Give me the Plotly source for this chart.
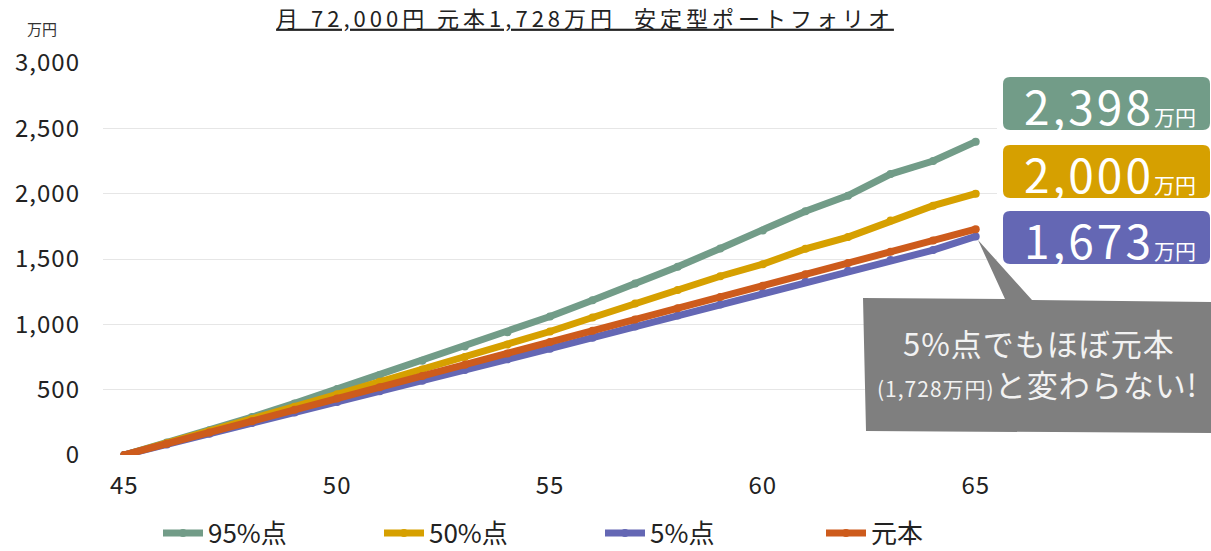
import plotly.graph_objects as go

# 年齢(歳)
ages = [45, 46, 47, 48, 49, 50, 51, 52, 53, 54, 55,
        56, 57, 58, 59, 60, 61, 62, 63, 64, 65]

# 資産額(万円)
p95 = [0, 95, 190, 290, 395, 505, 612, 722, 830, 940, 1060,
       1185, 1312, 1441, 1581, 1718, 1866, 1985, 2150, 2250, 2398]
p50 = [0, 90, 182, 276, 370, 465, 560, 655, 750, 845, 945,
       1052, 1160, 1262, 1368, 1460, 1578, 1668, 1795, 1908, 2000]
p05 = [0, 80, 162, 244, 325, 405, 487, 568, 650, 732, 814,
       898, 983, 1068, 1152, 1240, 1326, 1410, 1492, 1568, 1673]
principal = [0, 86.4, 172.8, 259.2, 345.6, 432, 518.4, 604.8, 691.2, 777.6, 864,
             950.4, 1036.8, 1123.2, 1209.6, 1296, 1382.4, 1468.8, 1555.2, 1641.6, 1728]

series_names = ["95%点", "50%点", "5%点", "元本"]
series_colors = ["#729c88", "#d6a000", "#6467b4", "#cd5b1c"]

y_ticks = [0, 500, 1000, 1500, 2000, 2500, 3000]
x_ticks = [45, 50, 55, 60, 65]

FONT = "Noto Sans CJK JP"

# plot area in pixels
W_FIG, H_FIG = 1211, 551
L, R, T, B = 103, 997, 63, 455


def paper(px, py):
    return (px - L) / (R - L), (B - py) / (B - T)


def spaced(text, px):
    return f"<span style='letter-spacing:{px}px'>{text}</span>"


def rounded_rect(x0, y0, x1, y1, r):
    # rounded rectangle path given in pixel corners, emitted in paper units
    ax0, top = paper(x0, y0)
    ax1, bot = paper(x1, y1)
    rx = r / (R - L)
    ry = r / (B - T)
    return (f"M{ax0 + rx},{top} L{ax1 - rx},{top} Q{ax1},{top} {ax1},{top - ry} "
            f"L{ax1},{bot + ry} Q{ax1},{bot} {ax1 - rx},{bot} "
            f"L{ax0 + rx},{bot} Q{ax0},{bot} {ax0},{bot + ry} "
            f"L{ax0},{top - ry} Q{ax0},{top} {ax0 + rx},{top} Z")


fig = go.Figure()
for name, vals, col in zip(series_names, [p95, p50, p05, principal], series_colors):
    fig.add_trace(go.Scatter(
        x=ages, y=vals, name=name, mode="lines+markers",
        line=dict(color=col, width=7),
        marker=dict(color=col, size=8),
    ))

shapes = []
annotations = []

# value badges at the right end
badge_rows = [(77, 130, p95[-1], series_colors[0]),
              (145, 198, p50[-1], series_colors[1]),
              (211, 264, p05[-1], series_colors[2])]
for y0, y1, val, col in badge_rows:
    shapes.append(dict(type="path", xref="paper", yref="paper",
                       path=rounded_rect(1003, y0, 1210, y1, 7),
                       fillcolor=col, line=dict(width=0), layer="above"))
    cx, cy = paper(1110, (y0 + y1) / 2 + 1)
    annotations.append(dict(
        xref="paper", yref="paper", x=cx, y=cy, xanchor="center", yanchor="middle",
        text=spaced(f"{val:,}", 3) + "<span style='font-size:21px'>万円</span>",
        showarrow=False, font=dict(family=FONT, size=46, color="white")))

# speech bubble
bubble = [(863, 298), (1005, 299), (978, 240), (1032, 300), (1211, 302),
          (1211, 433), (866, 431)]
pts = [paper(x, y) for x, y in bubble]
path = "M" + " L".join(f"{x},{y}" for x, y in pts) + " Z"
shapes.append(dict(type="path", xref="paper", yref="paper", path=path,
                   fillcolor="#7f7f7f", line=dict(width=0), layer="above"))
bx, by = paper(1039, 342)
annotations.append(dict(
    xref="paper", yref="paper", x=bx, y=by, xanchor="center", yanchor="middle",
    text=spaced("5%点でもほぼ元本", 1), showarrow=False,
    font=dict(family=FONT, size=31, color="#f2f2f2")))
bx, by = paper(1037, 383)
annotations.append(dict(
    xref="paper", yref="paper", x=bx, y=by, xanchor="center", yanchor="middle",
    text=(f"<span style='font-size:21px;letter-spacing:1px'>({principal[-1]:,.0f}万円)</span>"
          + spaced("と変わらない!", 1)),
    showarrow=False, font=dict(family=FONT, size=31, color="#f2f2f2")))

# unit label
ux, uy = paper(42, 29)
annotations.append(dict(
    xref="paper", yref="paper", x=ux, y=uy, xanchor="center", yanchor="middle",
    text="万円", showarrow=False, font=dict(family=FONT, size=15, color="#333333")))

fig.update_layout(
    width=W_FIG, height=H_FIG,
    margin=dict(l=L, r=W_FIG - R, t=T, b=H_FIG - B, autoexpand=False),
    paper_bgcolor="white", plot_bgcolor="white",
    title=dict(text=spaced("月 72,000円 元本1,728万円  安定型ポートフォリオ", 4),
               x=(585 - L) / (R - L), xref="paper", xanchor="center",
               y=1 - 19 / H_FIG, yanchor="middle",
               font=dict(family=FONT, size=22, color="#222222", lineposition="under")),
    font=dict(family=FONT, color="#222222"),
    xaxis=dict(range=[44.5, 65.5], tickvals=x_ticks,
               ticktext=[spaced(str(v), 1) for v in x_ticks],
               showgrid=False, zeroline=False,
               showline=False, ticks="", tickfont=dict(size=24, color="#222222"),
               ticklabelstandoff=14),
    yaxis=dict(range=[0, 3000], tickvals=y_ticks,
               ticktext=[spaced(f"{v:,}", 1) for v in y_ticks],
               showgrid=True,
               gridcolor="#e6e6e6", gridwidth=1, zeroline=False, showline=False,
               ticks="", tickfont=dict(size=24, color="#222222"), ticklabelstandoff=22),
    showlegend=True,
    legend=dict(orientation="h", xref="paper", yref="paper",
                x=(158 - L) / (R - L), xanchor="left",
                y=(B - 533) / (B - T), yanchor="middle",
                font=dict(family=FONT, size=26, color="#222222"),
                entrywidth=166, itemwidth=40, bgcolor="rgba(0,0,0,0)"),
    shapes=shapes,
    annotations=annotations,
)

fig.write_html("out.html")
